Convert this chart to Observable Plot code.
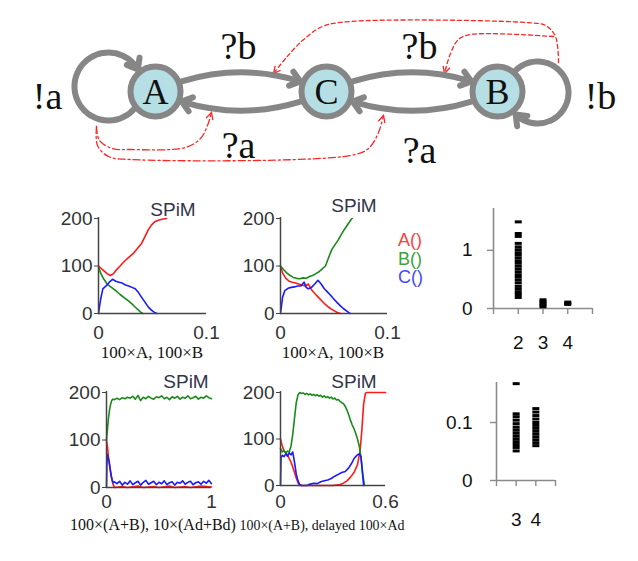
<!DOCTYPE html>
<html><head><meta charset="utf-8">
<script src="https://cdn.jsdelivr.net/npm/d3@7"></script>
<script src="https://cdn.jsdelivr.net/npm/@observablehq/plot@0.6"></script>
<style>
body{margin:0;background:#fff;}
#wrap{position:relative;width:638px;height:561px;overflow:hidden;background:#fff;font-family:"Liberation Sans",Arial,sans-serif;}
#wrap svg{position:absolute;overflow:visible;}
.t{position:absolute;white-space:nowrap;line-height:1;}
.cap{font-family:"Liberation Serif",serif;color:#111;}
.spim{font-size:19px;color:#33334a;}
.leg{position:absolute;font-size:18px;line-height:1;transform:translateY(-50%);}
</style></head><body><div id="wrap"></div><script>
// ---------- data ----------
const seriesNames = ["A()", "B()", "C()"];
const seriesColors = ["#ff1a1a", "#1a8a1a", "#1a1aff"];
const legendColors = ["#ff4040", "#40a040", "#4848ff"];

const c1A = [[0,100],[0.004,92],[0.008,84],[0.011,80],[0.014,84],[0.017,93],[0.020,100],[0.024,110],[0.028,118],[0.032,126],[0.036,137],[0.040,148],[0.043,162],[0.046,176],[0.049,186],[0.052,193],[0.056,197],[0.060,199],[0.063,200]];
const c1B = [[0,98],[0.002,85],[0.005,72],[0.008,62],[0.012,55],[0.016,48],[0.020,40],[0.024,33],[0.028,26],[0.032,18],[0.036,9],[0.039,3],[0.041,0]];
const c1C = [[0,0],[0.002,30],[0.004,52],[0.007,58],[0.010,66],[0.013,72],[0.016,68],[0.019,66],[0.022,64],[0.025,60],[0.028,58],[0.031,55],[0.034,52],[0.037,44],[0.040,34],[0.043,24],[0.046,14],[0.049,7],[0.052,2],[0.054,0]];

const c2A = [[0,100],[0.002,85],[0.005,74],[0.008,68],[0.011,66],[0.014,64],[0.017,62],[0.020,60],[0.023,58],[0.026,62],[0.029,50],[0.032,42],[0.035,35],[0.038,28],[0.041,21],[0.044,15],[0.047,10],[0.050,6],[0.053,2],[0.056,0]];
const c2B = [[0,100],[0.003,92],[0.006,85],[0.009,80],[0.012,76],[0.015,74],[0.018,73],[0.021,75],[0.024,74],[0.027,78],[0.030,80],[0.033,84],[0.036,88],[0.039,94],[0.042,100],[0.045,118],[0.048,135],[0.051,145],[0.054,155],[0.057,167],[0.060,178],[0.063,188],[0.066,198],[0.067,200]];
const c2C = [[0,0],[0.002,35],[0.004,48],[0.007,53],[0.010,55],[0.013,56],[0.016,58],[0.019,58],[0.022,66],[0.024,55],[0.026,52],[0.029,55],[0.032,62],[0.035,70],[0.038,62],[0.041,52],[0.044,45],[0.047,38],[0.050,30],[0.053,23],[0.056,16],[0.059,10],[0.062,5],[0.065,0]];

const c3A = [[0,100],[0.01,85],[0.02,60],[0.03,45],[0.04,30],[0.05,18],[0.06,8],[0.07,3],[0.08,0],[0.15,2],[0.2,0],[0.3,3],[0.35,0],[0.45,2],[0.5,0],[0.6,3],[0.65,0],[0.75,2],[0.8,0],[0.9,3],[1,1]];
const c3B = [[0,100],[0.01,125],[0.02,148],[0.03,165],[0.04,176],[0.05,183],[0.06,186],[0.075,185],[0.1,188],[0.125,185],[0.15,189],[0.175,187],[0.2,190],[0.225,188],[0.25,192],[0.275,186],[0.3,194],[0.325,183],[0.35,190],[0.375,187],[0.4,192],[0.425,188],[0.45,186],[0.475,191],[0.5,189],[0.525,193],[0.55,187],[0.575,190],[0.6,185],[0.625,191],[0.65,188],[0.675,192],[0.7,186],[0.725,190],[0.75,188],[0.775,193],[0.8,187],[0.825,189],[0.85,192],[0.875,186],[0.9,190],[0.925,188],[0.95,193],[0.975,189],[1,187]];
const c3C = [[0,0],[0.004,50],[0.008,70],[0.015,65],[0.025,55],[0.035,40],[0.045,25],[0.055,15],[0.065,10],[0.075,12],[0.1,8],[0.125,13],[0.15,5],[0.175,11],[0.2,7],[0.225,14],[0.25,6],[0.275,10],[0.3,13],[0.325,5],[0.35,11],[0.375,15],[0.4,7],[0.425,10],[0.45,13],[0.475,6],[0.5,11],[0.525,8],[0.55,14],[0.575,6],[0.6,10],[0.625,12],[0.65,5],[0.675,11],[0.7,9],[0.725,14],[0.75,7],[0.775,11],[0.8,13],[0.825,6],[0.85,10],[0.875,12],[0.9,7],[0.925,13],[0.95,9],[0.975,15],[1,8]];

const c4A = [[0,100],[0.01,85],[0.02,75],[0.03,70],[0.04,66],[0.05,58],[0.06,50],[0.07,40],[0.08,28],[0.09,16],[0.1,6],[0.11,0],[0.2,0],[0.3,0],[0.34,2],[0.36,5],[0.38,10],[0.4,18],[0.42,28],[0.44,45],[0.455,75],[0.465,120],[0.475,175],[0.485,198],[0.49,200],[0.6,200]];
const c4B = [[0,80],[0.01,72],[0.02,75],[0.03,70],[0.04,74],[0.05,72],[0.06,85],[0.07,110],[0.08,145],[0.09,178],[0.1,195],[0.11,200],[0.12,198],[0.13,199],[0.14,196],[0.15,198],[0.16,195],[0.17,197],[0.18,194],[0.19,196],[0.2,193],[0.21,195],[0.22,192],[0.23,194],[0.24,190],[0.25,193],[0.26,189],[0.27,191],[0.28,188],[0.29,190],[0.3,186],[0.31,188],[0.32,184],[0.33,185],[0.34,181],[0.35,178],[0.36,176],[0.37,170],[0.38,162],[0.39,152],[0.4,140],[0.41,130],[0.42,122],[0.43,112],[0.44,100],[0.45,85],[0.46,60],[0.47,25],[0.48,0]];
const c4C = [[0,0],[0.003,60],[0.01,65],[0.02,62],[0.03,68],[0.04,63],[0.05,70],[0.06,66],[0.07,72],[0.08,50],[0.09,25],[0.1,10],[0.11,2],[0.12,0],[0.15,0],[0.17,3],[0.19,5],[0.21,4],[0.23,8],[0.25,10],[0.27,12],[0.29,15],[0.31,20],[0.33,24],[0.35,28],[0.37,30],[0.39,38],[0.41,50],[0.42,58],[0.43,62],[0.44,66],[0.45,68],[0.46,62],[0.465,40],[0.47,20],[0.475,0]];

const s1Cat2 = [1.49,1.29,1.24,1.12,1.06,1.01,0.96,0.92,0.87,0.82,0.78,0.73,0.68,0.63,0.58,0.54,0.49,0.44,0.38,0.33,0.28,0.24,0.19];
const s1Cat3 = [0.03,0.06,0.09,0.12,0.15];
const s1Cat4 = [0.07,0.09,0.11];
const s1Labels = [2,3,4];
const s2Cat3 = [0.167,0.115,0.11,0.104,0.098,0.092,0.087,0.082,0.077,0.072,0.067,0.062,0.057,0.051];
const s2Cat4 = [0.124,0.118,0.112,0.106,0.1,0.095,0.09,0.085,0.08,0.075,0.07,0.065,0.06];
const s2Labels = [3,4];

const captions = ["100×A, 100×B", "100×A, 100×B", "100×(A+B), 10×(Ad+Bd)", "100×(A+B), delayed 100×Ad"];

// diagram
const nodes = [{id:"A"},{id:"C"},{id:"B"}];
const edges = [{from:"A",to:"C"},{from:"C",to:"A"},{from:"C",to:"B"},{from:"B",to:"C"}];
const edgeLabels = ["?b","?b","?a","?a","!a","!b"];

// ---------- layout ----------
const wrap = document.getElementById("wrap");
const place = (el, left, top) => { el.style.left = left + "px"; el.style.top = top + "px"; wrap.appendChild(el); };
function addText(text, x, y, cls, style, sx) {
  const d = document.createElement("div"); d.className = "t " + cls; d.textContent = text;
  Object.assign(d.style, style || {});
  d.style.transform = `translate(-50%,-50%) scaleX(${sx || 1})`;
  place(d, x, y);
}

// ----- diagram -----
const nodePos = {A:[155,91], C:[326,91], B:[497,91]};
const labelPos = [[238,46],[419,46],[238,145],[419,150],[47,96],[600,96]];
const loops = [{cx:108, cy:86, r:34, t0:40, t1:330}, {cx:537, cy:92, r:31, t0:225, t1:495}];
const rad = Math.PI / 180;
const ptOn = (l, t) => [l.cx + l.r * Math.cos(t * rad), l.cy + l.r * Math.sin(t * rad)];
const loopLines = loops.map((l) => d3.range(l.t0, l.t1 - 68, 4).map((t) => ptOn(l, t)));
const loopHeads = loops.map((l) => { const a = ptOn(l, l.t1 - 70), b = ptOn(l, l.t1); return {x1:a[0], y1:a[1], x2:b[0], y2:b[1]}; });
const redDash = [
  [[558,62],[555,36],[545,25],[525,22],[350,21],[322,26],[302,40],[285,58],[273,73]],
  [[553,36],[470,34],[458,39],[450,53],[444,73]]
];
const redDashDot = [
  [[96,126],[99,140],[112,148],[130,149],[185,147],[200,138],[207,125],[211,112]],
  [[96,126],[97,145],[108,156],[130,159],[350,155],[368,148],[378,132],[383,115]]
];
const redHeads = [...redDash, ...redDashDot].map((p) => {
  const a = p[p.length - 2], b = p[p.length - 1];
  return {x: b[0], y: b[1], angle: Math.atan2(b[0] - a[0], -(b[1] - a[1])) / rad};
});
const chevron = {draw(ctx) { ctx.moveTo(-3.5, 7); ctx.lineTo(0, 0); ctx.lineTo(3.5, 7); }};
const gray = "#868686", red = "#ff2424";
const serif = "Liberation Serif, serif";

const diagram = Plot.plot({
  width: 638, height: 180, margin: 0,
  x: {domain: [0, 638], range: [0, 638], axis: null},
  y: {domain: [0, 180], range: [0, 180], axis: null},
  style: {background: "transparent", overflow: "visible"},
  marks: [
    ...redDash.map((p) => Plot.line(p, {x: (d) => d[0], y: (d) => d[1], curve: "catmull-rom", stroke: red, strokeWidth: 1.3, strokeDasharray: "4,3"})),
    ...redDashDot.map((p) => Plot.line(p, {x: (d) => d[0], y: (d) => d[1], curve: "catmull-rom", stroke: red, strokeWidth: 1.3, strokeDasharray: "7,3,2,3"})),
    Plot.dot(redHeads, {x: "x", y: "y", rotate: "angle", symbol: chevron, stroke: red, fill: "none", strokeWidth: 1.3}),
    ...loopLines.map((p) => Plot.line(p, {x: (d) => d[0], y: (d) => d[1], curve: "catmull-rom", stroke: gray, strokeWidth: 6})),
    Plot.arrow(loopHeads, {x1: "x1", y1: "y1", x2: "x2", y2: "y2", bend: 35, stroke: gray, strokeWidth: 6, headLength: 3, headAngle: 75}),
    Plot.arrow(edges, {x1: (d) => nodePos[d.from][0], y1: (d) => nodePos[d.from][1], x2: (d) => nodePos[d.to][0], y2: (d) => nodePos[d.to][1],
      bend: 25, inset: 28, stroke: gray, strokeWidth: 6, headLength: 3, headAngle: 75}),
    Plot.dot(nodes, {x: (d) => nodePos[d.id][0], y: (d) => nodePos[d.id][1], r: 25, fill: "#b5dfe4", stroke: gray, strokeWidth: 6}),
    Plot.text(nodes, {x: (d) => nodePos[d.id][0], y: (d) => nodePos[d.id][1] + 1, text: "id", fontFamily: serif, fontSize: 36, fill: "#111"}),
    Plot.text(edgeLabels, {x: (d, i) => labelPos[i][0], y: (d, i) => labelPos[i][1], text: (d) => d, fontFamily: serif, fontSize: 38, fill: "#111"})
  ]
});
place(diagram, 0, 0);

// ----- line charts -----
const lineSpecs = [
  {x0:98, x1:206, yb:313, yt:218, xmax:0.1, data:[c1A,c1B,c1C], spim:[173,209], cap:[152,352,17,1], xpad:12},
  {x0:280, x1:387, yb:313, yt:218, xmax:0.1, data:[c2A,c2B,c2C], spim:[354,205], cap:[333,352,17,1], xpad:12},
  {x0:106, x1:211, yb:487, yt:392, xmax:1, data:[c3A,c3B,c3C], spim:[186,381], cap:[153,525,16,1], xpad:7},
  {x0:280, x1:385, yb:485, yt:392, xmax:0.6, data:[c4A,c4B,c4C], spim:[354,381], cap:[322,525,15,0.93], xpad:9}
];
lineSpecs.forEach((s, k) => {
  const ml = 60, mr = 20, mt = 10, mb = 40;
  const p = Plot.plot({
    width: s.x1 - s.x0 + ml + mr, height: s.yb - s.yt + mt + mb,
    marginLeft: ml, marginRight: mr, marginTop: mt, marginBottom: mb,
    x: {domain: [0, s.xmax]}, y: {domain: [0, 200]},
    style: {background: "transparent", overflow: "visible", fontSize: "19px", fontFamily: "Liberation Sans, Arial, sans-serif", color: "#333"},
    marks: [
      ...s.data.map((d, i) => Plot.line(d, {x: (v) => v[0], y: (v) => v[1], stroke: seriesColors[i], strokeWidth: 1.6})),
      Plot.ruleX([0], {y1: 0, y2: 202, stroke: "#444", strokeWidth: 1.5}),
      Plot.ruleY([0], {x1: 0, x2: s.xmax, stroke: "#444", strokeWidth: 1.5}),
      Plot.axisY({ticks: [0, 100, 200], tickSize: 4, tickPadding: 2, label: null, stroke: "#444"}),
      Plot.axisX({ticks: [0, s.xmax], tickSize: 0, tickPadding: s.xpad, label: null, tickFormat: (d) => String(d)})
    ]
  });
  place(p, s.x0 - ml, s.yt - mt);
  addText("SPiM", s.spim[0], s.spim[1], "spim");
  addText(captions[k], s.cap[0], s.cap[1], "cap", {fontSize: s.cap[2] + "px"}, s.cap[3]);
});

// legend
seriesNames.forEach((n, i) => {
  const d = document.createElement("div"); d.className = "leg"; d.textContent = n; d.style.color = legendColors[i];
  place(d, 398, 240 + i * 18.5);
});

// ----- strip charts -----
const bar = {draw(ctx) { ctx.rect(-3.5, -1.5, 7, 3); }};
const stripSpecs = [
  {x0:493, x1:592, yb:308, yt:208, xd:[1,5], yd:[0,1.72], yticks:[0,1], xticks:[1,2,3,4,5], labels:s1Labels,
   pts:[...s1Cat2.map((v) => [2, v]), ...s1Cat3.map((v) => [3, v]), ...s1Cat4.map((v) => [4, v])], ypad:15, xpad:21},
  {x0:496, x1:555, yb:480, yt:382, xd:[2,5], yd:[0,0.169], yticks:[0,0.1], xticks:[2,3,4,5], labels:s2Labels,
   pts:[...s2Cat3.map((v) => [3, v]), ...s2Cat4.map((v) => [4, v])], ypad:18, xpad:26}
];
stripSpecs.forEach((s) => {
  const ml = 60, mr = 20, mt = 10, mb = 50;
  const p = Plot.plot({
    width: s.x1 - s.x0 + ml + mr, height: s.yb - s.yt + mt + mb,
    marginLeft: ml, marginRight: mr, marginTop: mt, marginBottom: mb,
    x: {domain: s.xd}, y: {domain: s.yd},
    style: {background: "transparent", overflow: "visible", fontSize: "19px", fontFamily: "Liberation Sans, Arial, sans-serif", color: "#111"},
    marks: [
      Plot.ruleX([s.xd[0]], {y1: s.yd[0], y2: s.yd[1], stroke: "#8a8a8a", strokeWidth: 1.6}),
      Plot.ruleY([0], {x1: s.xd[0], x2: s.xd[1], stroke: "#8a8a8a", strokeWidth: 1.6}),
      Plot.axisY({ticks: s.yticks, tickSize: 6, tickPadding: s.ypad, label: null, stroke: "#8a8a8a", strokeWidth: 1.4, tickFormat: (d) => String(d)}),
      Plot.axisX({ticks: s.xticks, tickSize: 6, tickPadding: s.xpad, label: null, stroke: "#8a8a8a", strokeWidth: 1.4, tickFormat: (d) => s.labels.includes(d) ? String(d) : ""}),
      Plot.dot(s.pts, {x: (d) => d[0], y: (d) => d[1], symbol: bar, fill: "#000", stroke: "none"})
    ]
  });
  place(p, s.x0 - ml, s.yt - mt);
});
</script></body></html>
